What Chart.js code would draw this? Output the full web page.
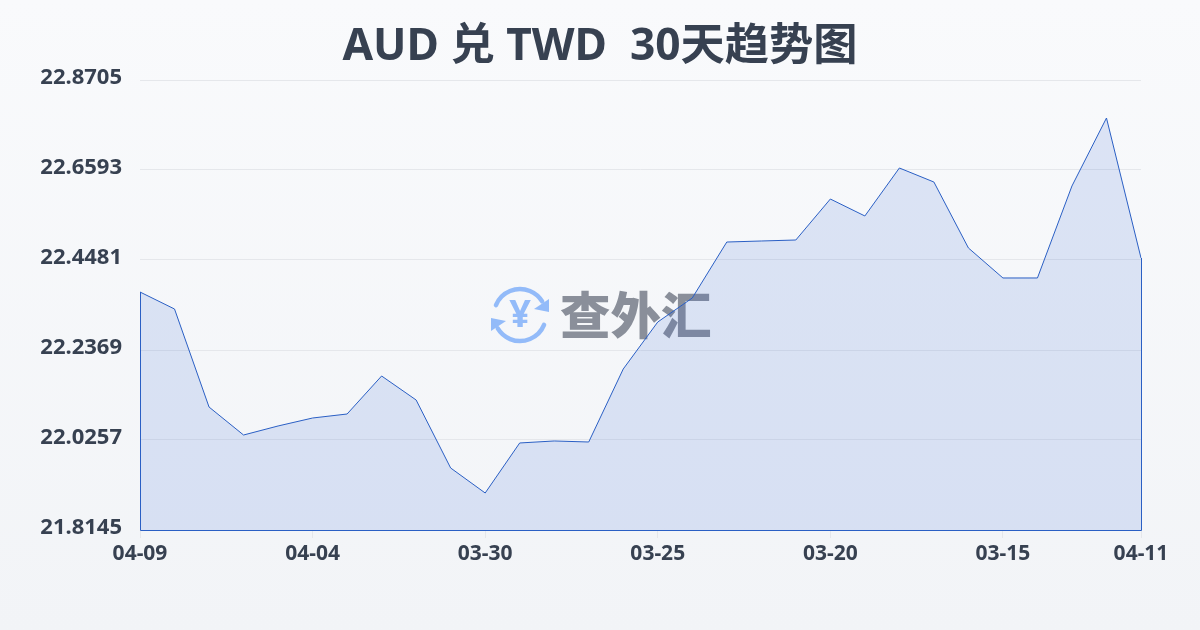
<!DOCTYPE html>
<html><head><meta charset="utf-8">
<style>html,body{margin:0;padding:0;background:#f5f6f9}#w{width:1200px;height:630px;background:linear-gradient(180deg,#f9fafc 0%,#f2f4f7 100%)}canvas{display:block}</style>
<script src="https://cdn.jsdelivr.net/npm/chart.js@4/dist/chart.umd.min.js"></script>
</head><body><div id="w"><canvas id="c" width="1200" height="630"></canvas></div>
<script>
const categories=['04-09','04-08','04-07','04-06','04-05','04-04','04-03','04-02','04-01','03-31','03-30','03-29','03-28','03-27','03-26','03-25','03-24','03-23','03-22','03-21','03-20','03-19','03-18','03-17','03-16','03-15','03-14','03-13','03-12','04-11'];
const rates=[22.3730,22.3331,22.1031,22.0374,22.0586,22.0773,22.0867,22.1759,22.1196,21.9600,21.9013,22.0187,22.0234,22.0210,22.1923,22.3026,22.3589,22.4903,22.4927,22.4950,22.5912,22.5514,22.6640,22.6311,22.4763,22.4059,22.4059,22.6218,22.7813,22.4528];
const yTicks=[21.8145,22.0257,22.2369,22.4481,22.6593,22.8705];
const shownLabels=[0,5,10,15,20,25,29];
const titleText='AUD 兑 TWD  30天趋势图';
const watermarkText='查外汇';
const fam='"Noto Sans","Noto Sans CJK SC",sans-serif';
const ink='#374151', lineColor='#2a5fc4';

const outline={id:'outline',afterDatasetsDraw(ch){
  const pts=ch.getDatasetMeta(0).data, base=ch.scales.y.getPixelForValue(yTicks[0])+0.5;
  const a=pts[0], b=pts[pts.length-1], c=ch.ctx;
  c.save();c.strokeStyle=lineColor;c.lineWidth=1;c.beginPath();
  c.moveTo(a.x+0.5,a.y);c.lineTo(a.x+0.5,base);c.lineTo(b.x+0.5,base);c.lineTo(b.x+0.5,b.y);c.stroke();c.restore();
}};
const watermark={id:'watermark',beforeDatasetsDraw(ch){
  const c=ch.ctx,x=520,y=315,r=26;
  c.save();
  c.strokeStyle='#93bbf9';c.fillStyle='#93bbf9';c.lineWidth=4.5;c.lineCap='round';
  c.beginPath();c.arc(x,y,r,-2.75,-0.55);c.stroke();
  c.beginPath();c.arc(x,y,r,0.39,2.6);c.stroke();
  c.beginPath();c.moveTo(549,299);c.lineTo(549,312);c.lineTo(534,309);c.closePath();c.fill();
  c.beginPath();c.moveTo(491,331);c.lineTo(491,318);c.lineTo(506,321);c.closePath();c.fill();
  c.font='700 38px '+fam;c.textAlign='center';c.textBaseline='middle';c.fillText('¥',x,y+1);
  c.fillStyle='rgba(100,106,120,0.74)';c.textAlign='left';c.font='900 50.5px "Noto Sans CJK SC",sans-serif';
  c.fillText(watermarkText,560,315);
  c.restore();
}};
new Chart(document.getElementById('c'),{
  type:'line',
  data:{labels:categories,datasets:[{data:rates,borderColor:lineColor,borderWidth:1,backgroundColor:'rgba(48,102,214,0.14)',fill:'origin',pointRadius:0,tension:0}]},
  options:{
    responsive:false,animation:false,
    plugins:{legend:{display:false},tooltip:{enabled:false},
      title:{display:true,text:titleText,color:ink,font:{family:fam,size:44.25,weight:'700',lineHeight:1.2},padding:{top:21,bottom:5.9}}},
    scales:{
      x:{grid:{drawOnChartArea:false,tickLength:8,tickColor:c=>shownLabels.includes(c.index)?'#e5e7eb':'transparent'},border:{display:false},
        ticks:{autoSkip:false,maxRotation:0,color:ink,padding:3,font:{family:fam,size:21,weight:'700'},
          callback(v,i){return shownLabels.includes(i)?categories[i]:'';}},
        afterFit(s){s.height=100;}},
      y:{min:yTicks[0],max:yTicks[5],afterBuildTicks(s){s.ticks=yTicks.map(v=>({value:v}));},
        grid:{color:'#e5e7eb',lineWidth:1,drawTicks:false},border:{display:false},
        ticks:{color:ink,padding:18,labelOffset:-2,font:{family:fam,size:22,weight:'700'},callback:v=>v.toFixed(4)},
        afterFit(s){s.width=140;}},
      r0:{position:'right',display:true,grid:{display:false},border:{display:false},ticks:{display:false},afterFit(s){s.width=59;}}
    }
  },
  plugins:[watermark,outline]
});
</script></body></html>
